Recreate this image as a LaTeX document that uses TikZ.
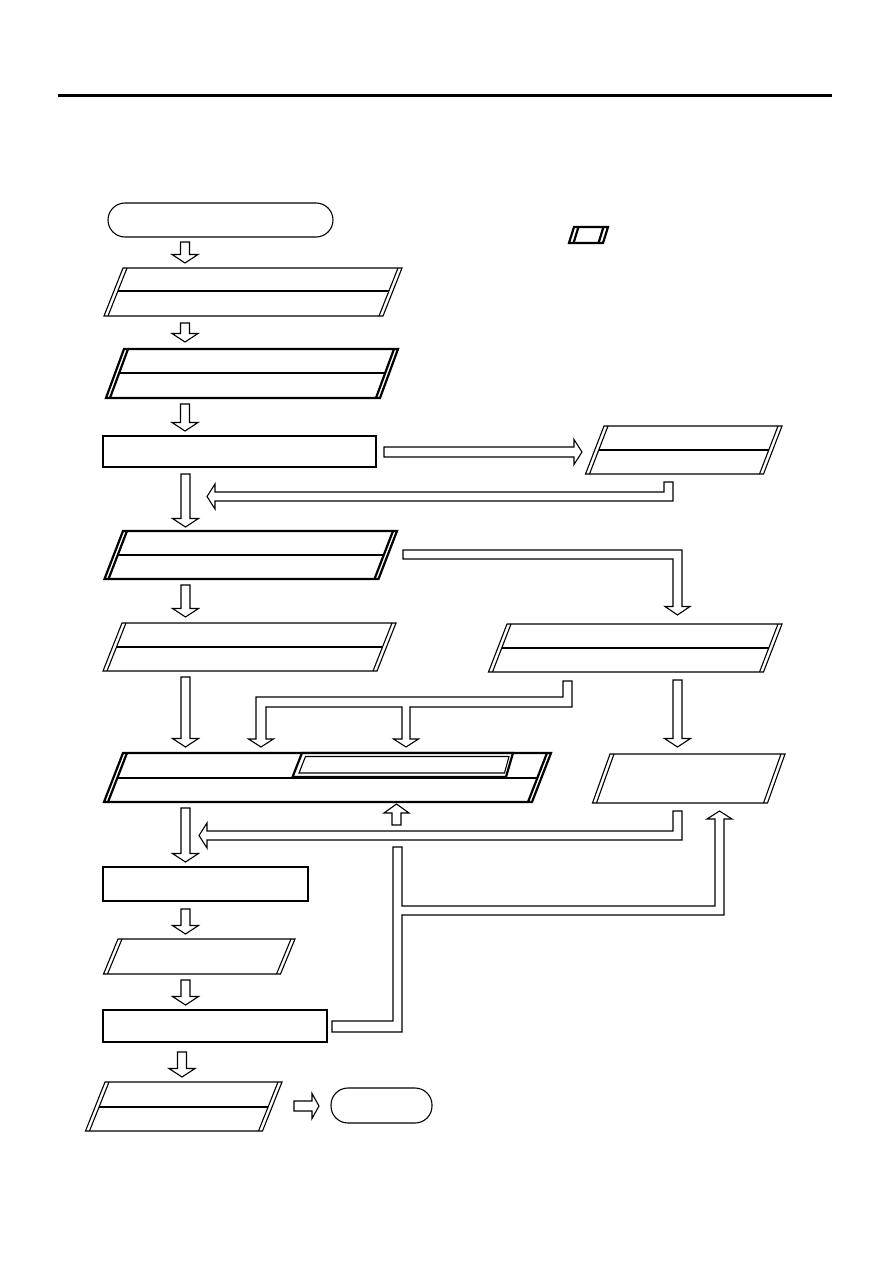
\documentclass[tikz,border=0pt]{standalone}
\usetikzlibrary{calc}
\tikzset{
  ln/.style={line width=1.1pt, line join=miter},
  bold/.style={line width=2.2pt, line join=miter},
  blk/.style={draw, line width=1.1pt, fill=white, line join=miter},
}
% parallelogram with doubled slanted sides
\newcommand{\pgmbox}[7]{%
  \draw[#7] (#2,#4) -- (#3,#4) -- ({#3-#6},#5) -- ({#2-#6},#5) -- cycle;
  \draw[#7] ({#2+4},#4) -- ({#2+4-#6},#5);
  \draw[#7] ({#3-4},#4) -- ({#3-4-#6},#5);
  \coordinate (#1) at ({(#2+#3-#6)/2},{(#4+#5)/2});
}
% middle dividing line of a parallelogram
\newcommand{\pgmmid}[6]{%
  \draw[ln] ({#1+4-#5*(#6-#3)/(#4-#3)},#6) -- ({#2-4-#5*(#6-#3)/(#4-#3)},#6);
}
% hollow block arrow pointing down: x centre, y top, y tip
\newcommand{\downarr}[3]{%
  \draw[blk] ({#1-4.5},#2) -- ({#1+4.5},#2) -- ({#1+4.5},{#3-8.5}) -- ({#1+13},{#3-8.5})
    -- (#1,#3) -- ({#1-13},{#3-8.5}) -- ({#1-4.5},{#3-8.5}) -- cycle;
}
\begin{document}
\begin{tikzpicture}[x=1pt,y=-1pt]
\useasboundingbox (0,0) rectangle (893,1263);
\fill[white] (0,0) rectangle (893,1263);

% header rule
\draw[line width=3pt] (58,95) -- (832,95);

% start terminator
\draw[ln, rounded corners=17pt] (108,203) rectangle (333,237);
\coordinate (start) at (220,220);

% legend symbol
\draw[bold] (574,227) -- (608,227) -- (603,243) -- (569,243) -- cycle;
\draw[bold] (578.5,227) -- (573.5,243);
\draw[bold] (603.5,227) -- (598.5,243);

% left column boxes
\pgmbox{b1}{123}{402}{268}{316}{19}{ln}
\pgmmid{123}{402}{268}{316}{19}{291}
\pgmbox{b2}{124}{398}{349}{398}{18}{bold}
\pgmmid{124}{398}{349}{398}{18}{373}
\draw[ln] (103,436) rectangle (376,467);
\coordinate (b3) at (240,452);
\pgmbox{b4}{123}{397}{531}{579}{18.5}{bold}
\pgmmid{123}{397}{531}{579}{18.5}{555}
\pgmbox{b5}{122}{396}{623}{671}{19}{ln}
\pgmmid{122}{396}{623}{671}{19}{647}

% big box
\pgmbox{big}{123}{551}{753}{802}{19}{bold}
\pgmmid{123}{551}{753}{802}{19}{778}
\draw[bold, fill=white] (302,753) -- (513,753) -- (506,777) -- (292.5,777) -- cycle;
\draw[ln] (305.5,756.5) -- (509,756.5) -- (504.5,773) -- (299,773) -- cycle;

\draw[ln] (103,867) rectangle (308,901);
\coordinate (b6) at (205,884);
\pgmbox{b7}{118}{295}{939}{974}{14.5}{ln}
\draw[bold] (103,1010) rectangle (327,1042);
\coordinate (b8) at (215,1026);
\pgmbox{b9}{105}{282}{1082}{1131}{19.5}{ln}
\pgmmid{105}{282}{1082}{1131}{19.5}{1107}

% end terminator
\draw[ln, rounded corners=17pt] (331,1088) rectangle (432,1123);
\coordinate (end) at (381,1105);

% right column boxes
\pgmbox{r1}{604}{782}{426}{474}{18.5}{ln}
\pgmmid{604}{782}{426}{474}{18.5}{450}
\pgmbox{r2}{507}{782}{624}{672}{18.5}{ln}
\pgmmid{507}{782}{624}{672}{18.5}{648}
\pgmbox{r3}{610}{785}{754}{803}{17.5}{ln}

% vertical block arrows in the left column
\downarr{185}{242}{263}
\downarr{185}{323}{342}
\downarr{185}{404}{431}
\downarr{185.5}{474}{527}
\downarr{185.5}{585}{617}
\downarr{185.5}{677}{747}
\downarr{185.5}{808}{862}
\downarr{185.5}{909}{934}
\downarr{185.5}{980}{1005}
\downarr{182}{1052}{1077}
\downarr{677.5}{680}{747}

% box 3 -> r1
\draw[blk] (384,447) -- (574,447) -- (574,439.5) -- (582,452) -- (574,464.5) -- (574,457) -- (384,457) -- cycle;
% r1 -> column
\draw[blk] (664,482) -- (673,482) -- (673,501) -- (215,501) -- (215,509) -- (207,496.5)
  -- (215,484) -- (215,492) -- (664,492) -- cycle;
% box 4 -> r2
\draw[blk] (403,550) -- (682,550) -- (682,606.5) -- (690,606.5) -- (677.5,615) -- (665,606.5)
  -- (673,606.5) -- (673,559) -- (403,559) -- cycle;
% r2 -> big box (fork)
\draw[blk] (563,681) -- (572,681) -- (572,707) -- (410,707) -- (410,739) -- (418.5,739)
  -- (406,747) -- (393.5,739) -- (402,739) -- (402,707) -- (266,707) -- (266,739)
  -- (273.5,739) -- (261,747) -- (248.5,739) -- (256,739) -- (256,697) -- (563,697) -- cycle;
% r3 -> column
\draw[blk] (673,811) -- (682,811) -- (682,840) -- (207,840) -- (207,848) -- (199,835.5)
  -- (207,823) -- (207,831) -- (673,831) -- cycle;
% box 8 -> r3 loop
\draw[blk] (332,1021) -- (393,1021) -- (393,847) -- (402,847) -- (402,906) -- (715,906)
  -- (715,819) -- (707,819) -- (719.5,811) -- (732,819) -- (724,819) -- (724,915)
  -- (402,915) -- (402,1032) -- (332,1032) -- cycle;
% up arrow into big box
\draw[blk] (392,825) -- (392,813) -- (384,813) -- (396.5,804) -- (409,813) -- (401,813)
  -- (401,825) -- cycle;
% box 9 -> end
\draw[blk] (294,1101) -- (312,1101) -- (312,1093.5) -- (319,1106) -- (312,1118.5)
  -- (312,1111) -- (294,1111) -- cycle;
\end{tikzpicture}
\end{document}
